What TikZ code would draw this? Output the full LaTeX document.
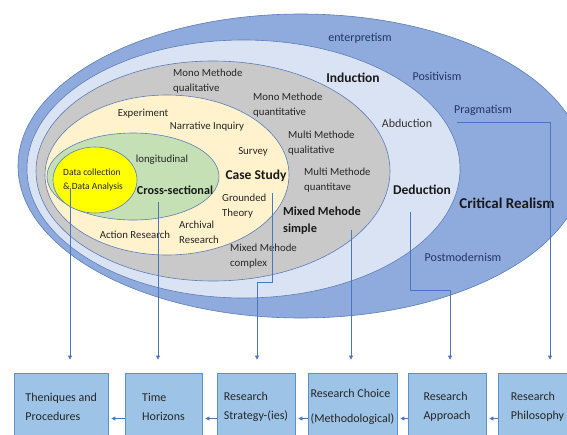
\documentclass[tikz,border=0pt]{standalone}
\usepackage{fontspec}
\setmainfont{Carlito}
\usetikzlibrary{arrows.meta}

\definecolor{philoblue}{HTML}{8FAADC}
\definecolor{approachblue}{HTML}{DAE3F3}
\definecolor{choicegray}{HTML}{C9C9C9}
\definecolor{strategycream}{HTML}{FFF2CC}
\definecolor{horizongreen}{HTML}{C5E0B4}
\definecolor{datayellow}{HTML}{FFFF00}
\definecolor{rimblue}{HTML}{5B7DB8}
\definecolor{arrowblue}{HTML}{4A76C0}
\definecolor{boxfill}{HTML}{9DC3E6}
\definecolor{boxrim}{HTML}{5B8FD0}
\definecolor{navytext}{HTML}{1F3763}

\begin{document}
\begin{tikzpicture}[x=1pt, y=-1pt,
  layer/.style={draw=rimblue, line width=0.6pt},
  lbl/.style={inner sep=0pt, text=black!85, align=left, font=\fontsize{10.8}{15}\selectfont},
  outerlbl/.style={inner sep=0pt, text=navytext, font=\fontsize{12}{15}\selectfont},
  boldlbl/.style={inner sep=0pt, text=black!90, align=left, font=\fontsize{13.5}{16}\selectfont\bfseries},
  stage/.style={draw=boxrim, fill=boxfill, line width=0.8pt, minimum height=67, inner sep=2pt,
    align=left, text=black!85, font=\fontsize{12}{19}\selectfont},
  flow/.style={draw=arrowblue, line width=0.6pt, -{Triangle[length=4pt, width=4pt]}}]
  \useasboundingbox (0,0) rectangle (567,434);
  \clip (0,0) rectangle (567,434);

  % the onion layers, outside in
  \draw[layer, fill=philoblue] (301,166) ellipse [x radius=283, y radius=152];
  \draw[layer, fill=approachblue] (243.5,169) ellipse [x radius=216.5, y radius=129];
  \draw[layer, fill=choicegray] (213,171) ellipse [x radius=177, y radius=110];
  \draw[layer, fill=strategycream] (167,175) ellipse [x radius=122, y radius=80];
  \draw[layer, fill=horizongreen] (133,176.5) ellipse [x radius=86, y radius=43.5];
  \draw[layer, fill=datayellow] (95,180) ellipse [x radius=42, y radius=33];

  % philosophies
  \node[outerlbl] (interp) at (360,38) {enterpretism};
  \node[outerlbl] (posit) at (437,76) {Positivism};
  \node[outerlbl] (pragm) at (483,110) {Pragmatism};
  \node[outerlbl] (postmod) at (463,257) {Postmodernism};
  \node[boldlbl, font=\fontsize{15}{18}\selectfont\bfseries] (critreal) at (507,203) {Critical Realism};

  % approaches
  \node[boldlbl] (induc) at (353,78) {Induction};
  \node[outerlbl, text=black!80] (abduc) at (407,123) {Abduction};
  \node[boldlbl] (deduc) at (422,190) {Deduction};

  % choices
  \node[lbl, anchor=west] (monoql) at (173,81) {Mono Methode\\qualitative};
  \node[lbl, anchor=west] (monoqn) at (253,105.5) {Mono Methode\\quantitative};
  \node[lbl, anchor=west] (multiql) at (288,143) {Multi Methode\\qualitative};
  \node[lbl, anchor=west] (multiqn) at (304,180) {Multi Methode\\quantitave};
  \node[boldlbl, anchor=west, font=\fontsize{12.3}{17}\selectfont\bfseries] (mixsimple) at (283,221) {Mixed Mehode\\simple};
  \node[lbl, anchor=west] (mixcomplex) at (230,256.5) {Mixed Mehode\\complex};

  % strategies
  \node[lbl] (expt) at (143,114) {Experiment};
  \node[lbl] (narr) at (207,127) {Narrative Inquiry};
  \node[lbl] (survey) at (253,152) {Survey};
  \node[boldlbl] (casestudy) at (256,176) {Case Study};
  \node[lbl, anchor=west] (grounded) at (222,206.5) {Grounded\\Theory};
  \node[lbl, anchor=west] (archival) at (179,232) {Archival\\Research};
  \node[lbl] (action) at (135,235) {Action Research};

  % time horizons and data
  \node[lbl] (longit) at (162,160) {longitudinal};
  \node[boldlbl, font=\fontsize{12.2}{15}\selectfont\bfseries] (cross) at (175,190) {Cross-sectional};
  \node[lbl, anchor=west, font=\fontsize{9.5}{14}\selectfont] (datacol) at (63,180) {Data collection\\\& Data Analysis};

  % the six stages
  \node[stage, minimum width=93.5] (theniq) at (61.25,406.5) {Theniques and\\Procedures};
  \node[stage, minimum width=77] (horizon) at (163.5,406.5) {Time\\Horizons};
  \node[stage, minimum width=78] (strategy) at (256,406.5) {Research\\Strategy-(ies)};
  \node[stage, minimum width=89] (choice) at (352.5,406.5) {Research Choice\\[6pt](Methodological)};
  \node[stage, minimum width=78] (approach) at (447,406.5) {Research\\Approach};
  \node[stage, minimum width=79] (philo) at (537.5,406.5) {Research\\Philosophy};

  % where the drop lines start and bend
  \coordinate (dataend) at (70,188);
  \coordinate (crossend) at (158,202);
  \coordinate (caseend) at (272,193);
  \coordinate (caseturn) at (257,282);
  \coordinate (mixedend) at (351,230);
  \coordinate (dedend) at (410,212);
  \coordinate (dedturn) at (450,290);
  \coordinate (pragend) at (457,122);
  \coordinate (pragturn) at (550,122);

  % drop lines from the layers to the stages
  \draw[flow, shorten >=13pt] (dataend) -- (dataend |- theniq.north);
  \draw[flow, shorten >=13pt] (crossend) -- (crossend |- horizon.north);
  \draw[flow, shorten >=13pt] (caseend) |- (caseturn) -- (caseturn |- strategy.north);
  \draw[flow, shorten >=13pt] (mixedend) -- (mixedend |- choice.north);
  \draw[flow, shorten >=13pt] (dedend) |- (dedturn) -- (dedturn |- approach.north);
  \draw[flow, shorten >=13pt] (pragend) -- (pragturn) -- (pragturn |- philo.north);

  % stage to stage, right to left
  \draw[flow, shorten >=3pt] ([yshift=-12pt]philo.west) -- ([yshift=-12pt]approach.east);
  \draw[flow, shorten >=3pt] ([yshift=-12pt]approach.west) -- ([yshift=-12pt]choice.east);
  \draw[flow, shorten >=3pt] ([yshift=-12pt]choice.west) -- ([yshift=-12pt]strategy.east);
  \draw[flow, shorten >=3pt] ([yshift=-12pt]strategy.west) -- ([yshift=-12pt]horizon.east);
  \draw[flow, shorten >=3pt] ([yshift=-12pt]horizon.west) -- ([yshift=-12pt]theniq.east);
\end{tikzpicture}
\end{document}
